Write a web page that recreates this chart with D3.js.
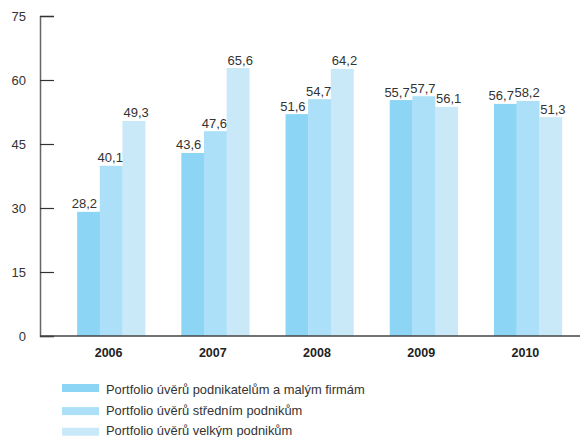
<!DOCTYPE html>
<html>
<head>
<meta charset="utf-8">
<script src="https://cdn.jsdelivr.net/npm/d3@7"></script>
<style>
  body { margin: 0; background: #fff; }
  svg { display: block; font-family: "Liberation Sans", Arial, sans-serif; }
</style>
</head>
<body>
<div id="chart-area"></div>
<script>
// data
const years = ["2006", "2007", "2008", "2009", "2010"];
const seriesNames = [
  "Portfolio úvěrů podnikatelům a malým firmám",
  "Portfolio úvěrů středním podnikům",
  "Portfolio úvěrů velkým podnikům"
];
// bar heights as drawn
const smallFirms = [29.1, 42.9, 52.0, 55.3, 54.4];
const mediumFirms = [39.9, 48.0, 55.5, 56.2, 55.1];
const largeFirms = [50.4, 62.8, 62.6, 53.7, 51.3];
// value labels as printed
const smallLabels = ["28,2", "43,6", "51,6", "55,7", "56,7"];
const mediumLabels = ["40,1", "47,6", "54,7", "57,7", "58,2"];
const largeLabels = ["49,3", "65,6", "64,2", "56,1", "51,3"];
const yTicks = [0, 15, 30, 45, 60, 75];

const colors = ["#8dd5f4", "#abe0f8", "#c9e9f8"];

const width = 581, height = 437;

let svg = d3.select("#chart-area").append("svg")
  .attr("width", width)
  .attr("height", height);

let x0 = d3.scaleBand()
  .domain(years)
  .range([59, 580])
  .paddingInner(0.348)
  .paddingOuter(0.174);

let x1 = d3.scaleBand()
  .domain([0, 1, 2])
  .range([0, x0.bandwidth()]);

let y = d3.scaleLinear()
  .domain([0, 75])
  .range([336, 16]);

let seriesValues = [smallFirms, mediumFirms, largeFirms];
let seriesLabels = [smallLabels, mediumLabels, largeLabels];

let rows = [];
years.forEach((yr, i) => {
  seriesValues.forEach((vals, s) => {
    rows.push({ year: yr, s: s, value: vals[i], label: seriesLabels[s][i] });
  });
});

// bars
svg.append("g").selectAll("rect")
  .data(rows)
  .enter()
  .append("rect")
  .attr("x", d => x0(d.year) + x1(d.s))
  .attr("y", d => y(d.value))
  .attr("width", x1.bandwidth() + 0.3)
  .attr("height", d => y(0) - y(d.value))
  .attr("fill", d => colors[d.s]);

// value labels, nudged right when they would collide
let labels = svg.append("g").selectAll("text")
  .data(rows)
  .enter()
  .append("text")
  .attr("y", d => y(d.value) - 3.5)
  .attr("text-anchor", "middle")
  .attr("font-size", "13px")
  .attr("fill", "#333")
  .text(d => d.label);

let lastRight = {};
labels.each(function (d) {
  let w = this.getComputedTextLength();
  let cx = x0(d.year) + x1(d.s) + x1.bandwidth() / 2 - 4;
  let prev = lastRight[d.year];
  if (prev !== undefined && cx - w / 2 < prev + 0.5) {
    cx = prev + 0.5 + w / 2;
  }
  lastRight[d.year] = cx + w / 2;
  d3.select(this).attr("x", cx);
});

// y axis
let yAxis = d3.axisRight(y)
  .tickValues(yTicks)
  .tickSize(14)
  .tickFormat(d3.format("d"));

let yg = svg.append("g")
  .attr("transform", "translate(40,0)")
  .call(yAxis);
yg.select(".domain").attr("stroke", "#666").attr("stroke-width", 1.5);
yg.selectAll(".tick line").attr("stroke", "#333").attr("stroke-width", 1.2);
yg.selectAll(".tick text")
  .attr("x", -14)
  .attr("text-anchor", "end")
  .attr("font-size", "13px")
  .attr("fill", "#333")
  .attr("font-family", "Liberation Sans, Arial, sans-serif");

// x axis baseline and year labels
let xAxis = d3.axisBottom(x0).tickSize(0).tickPadding(12);
let xg = svg.append("g")
  .attr("transform", `translate(0,${y(0)})`)
  .call(xAxis);
xg.select(".domain").remove();
xg.append("line")
  .attr("x1", 40).attr("x2", 580)
  .attr("stroke", "#444").attr("stroke-width", 1.5);
xg.selectAll(".tick text")
  .attr("dx", -2.5)
  .attr("font-size", "12.5px")
  .attr("font-weight", "bold")
  .attr("fill", "#222")
  .attr("font-family", "Liberation Sans, Arial, sans-serif");

// legend
let legend = svg.append("g").selectAll("g")
  .data(seriesNames)
  .enter()
  .append("g")
  .attr("transform", (d, i) => `translate(62, ${384 + i * 20.6})`);
legend.append("rect")
  .attr("y", (d, i) => i === 0 ? 0 : 2.5)
  .attr("width", 37)
  .attr("height", 8)
  .attr("fill", (d, i) => colors[i]);
legend.append("text")
  .attr("x", 44)
  .attr("y", 10)
  .attr("font-size", "12.9px")
  .attr("fill", "#333")
  .text(d => d);
</script>
</body>
</html>
